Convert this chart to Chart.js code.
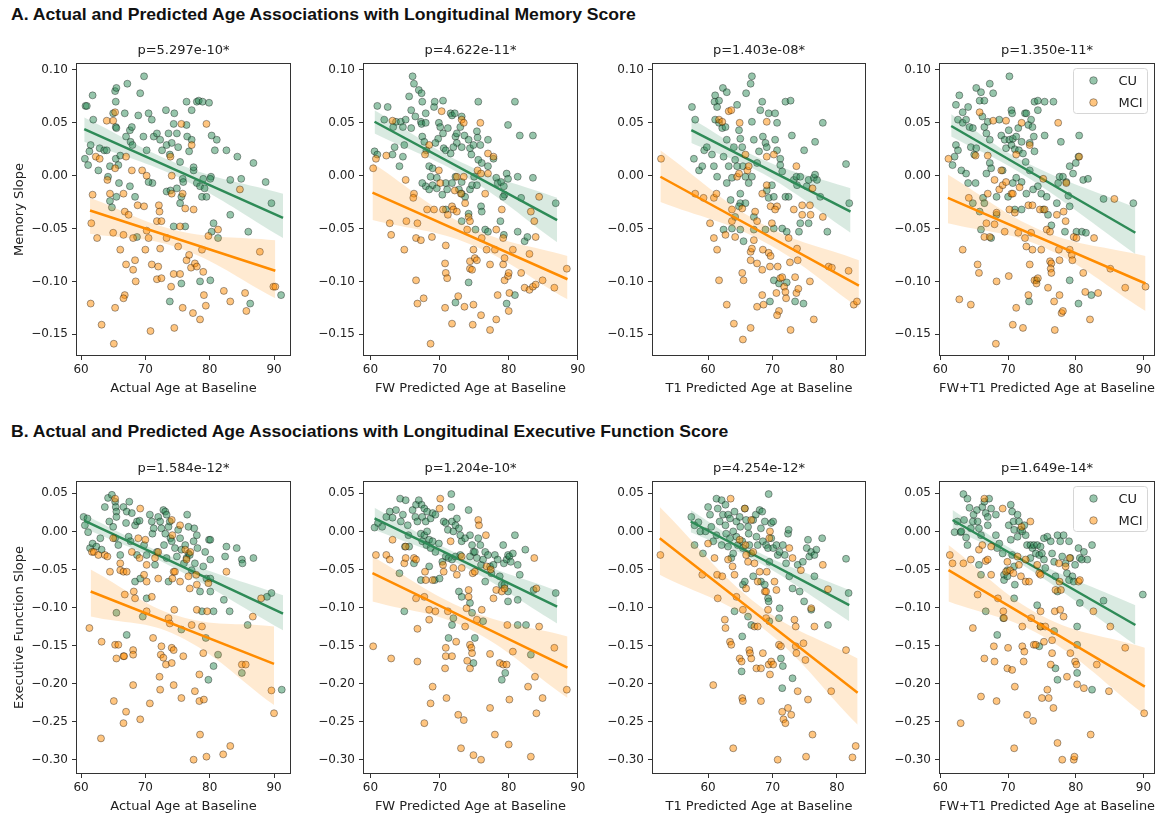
<!DOCTYPE html>
<html>
<head>
<meta charset="utf-8">
<script src="https://cdn.jsdelivr.net/npm/chart.js@4.4.1/dist/chart.umd.min.js"></script>
<style>
  body { margin: 0; background: #fff; }
  #page { position: relative; width: 1163px; height: 816px; overflow: hidden; }
  .section { position: absolute; left: 11px; font: bold 17px "Liberation Sans", Arial, sans-serif; color: #111;
             white-space: nowrap; line-height: 20px; transform-origin: left center; }
  canvas { position: absolute; }
</style>
</head>
<body>
<div id="page">
  <div class="section" style="top:5px" data-w="625">A. Actual and Predicted Age Associations with Longitudinal Memory Score</div>
  <div class="section" style="top:422px" data-w="717">B. Actual and Predicted Age Associations with Longitudinal Executive Function Score</div>
</div>
<script>
// panel texts
const pValues = ['p=5.297e-10*', 'p=4.622e-11*', 'p=1.403e-08*', 'p=1.350e-11*',
                 'p=1.584e-12*', 'p=1.204e-10*', 'p=4.254e-12*', 'p=1.649e-14*'];
const xLabels = ['Actual Age at Baseline', 'FW Predicted Age at Baseline', 'T1 Predicted Age at Baseline', 'FW+T1 Predicted Age at Baseline'];
const yLabels = ['Memory Slope', 'Executive Function Slope'];
const groups = ['CU', 'MCI'];
const xRanges = [[59.22, 92.64], [58.93, 90.02], [51.3, 84.5], [59.8, 91.7]];
const yRanges = [[-0.1706, 0.1066], [-0.3188, 0.0662]];

// ---- A: memory slope ----
const A1_cu = [[60.7,0.066],[60.9,0.066],[61.8,0.076],[61.9,0.053],[60.6,0.016],[61.1,0.010],[61.5,0.029],[61.3,0.023],[62.7,0.005],[62.9,0.026],[63.6,0.024],[64.0,0.024],[64.2,-0.001],[64.5,0.009],[64.5,-0.024],[64.8,-0.030],[65.0,0.059],[65.3,0.080],[65.5,0.083],[65.4,0.070],[65.4,0.046],[65.5,0.045],[65.4,0.016],[65.8,0.010],[66.1,0.019],[65.9,-0.007],[65.5,-0.020],[66.8,0.059],[67.0,0.037],[67.2,0.087],[67.6,0.043],[67.7,0.032],[68.0,0.029],[67.9,0.046],[67.6,-0.010],[68.4,-0.020],[68.7,-0.058],[68.9,0.057],[69.2,0.078],[69.8,0.094],[69.7,0.037],[70.2,0.024],[70.5,0.059],[71.0,0.053],[71.3,0.037],[71.8,0.040],[71.1,-0.007],[70.5,-0.006],[72.3,0.034],[72.6,0.024],[73.2,0.062],[73.3,0.029],[73.6,0.040],[73.8,0.020],[74.1,0.031],[74.5,0.059],[74.4,0.049],[74.9,0.040],[75.1,0.027],[75.4,0.013],[73.3,-0.015],[73.9,-0.014],[74.9,-0.012],[75.6,-0.020],[75.8,-0.003],[75.9,-0.006],[75.4,-0.026],[76.2,-0.048],[74.4,-0.048],[75.6,-0.102],[73.8,-0.119],[76.4,0.048],[76.5,0.037],[76.4,0.070],[77.2,0.062],[77.2,0.034],[76.8,0.023],[77.5,0.005],[77.5,0.008],[78.0,0.070],[78.3,0.071],[78.9,0.070],[79.9,0.069],[78.0,-0.007],[78.5,-0.010],[79.0,-0.003],[78.8,-0.020],[79.5,-0.020],[80.3,0.038],[80.8,0.024],[81.1,0.034],[80.2,-0.001],[80.1,-0.003],[80.6,-0.045],[80.3,-0.053],[81.3,-0.059],[82.6,0.024],[83.2,-0.004],[84.3,0.018],[83.2,-0.037],[84.9,-0.003],[86.0,-0.053],[86.8,0.012],[86.3,-0.121],[88.7,-0.006],[89.6,-0.026],[91.1,-0.113],[78.5,-0.100],[80.1,-0.099],[79.2,-0.012]];
const A1_mci = [[61.8,-0.018],[61.6,-0.045],[62.5,-0.059],[61.5,-0.121],[63.2,-0.141],[62.3,0.018],[62.9,0.016],[64.0,0.052],[65.0,0.052],[65.3,0.060],[64.1,-0.004],[64.5,-0.017],[65.3,0.007],[65.0,-0.054],[65.3,-0.125],[65.1,-0.159],[66.1,-0.070],[66.6,-0.017],[67.0,0.018],[66.8,-0.034],[67.4,-0.037],[66.6,-0.056],[67.0,-0.084],[66.8,-0.113],[66.6,-0.116],[67.9,0.005],[68.1,-0.059],[68.4,-0.080],[68.5,-0.100],[68.1,-0.089],[68.8,-0.028],[69.5,0.005],[69.8,-0.029],[70.0,-0.070],[70.2,0.000],[70.2,-0.052],[70.5,-0.059],[70.8,-0.147],[71.0,-0.084],[72.0,-0.086],[72.1,-0.028],[72.2,-0.034],[72.3,-0.069],[71.8,-0.043],[72.5,-0.043],[71.8,-0.098],[72.5,-0.097],[73.3,-0.059],[73.9,0.018],[74.0,-0.105],[74.4,-0.093],[74.5,-0.144],[74.1,0.000],[74.1,-0.017],[75.4,-0.048],[75.1,-0.067],[75.4,-0.093],[75.8,-0.125],[75.6,0.049],[75.8,-0.017],[76.2,-0.031],[76.4,-0.080],[76.8,-0.075],[77.2,0.029],[77.1,-0.087],[77.4,-0.130],[77.5,-0.032],[77.7,-0.083],[78.0,-0.086],[78.5,-0.136],[78.8,-0.070],[79.0,-0.091],[79.1,-0.113],[79.4,-0.123],[79.5,0.049],[79.8,-0.057],[81.3,-0.051],[82.2,-0.109],[83.2,-0.119],[84.7,-0.013],[85.5,-0.111],[85.7,-0.128],[87.8,-0.072],[89.9,-0.105],[90.2,-0.105]];
const A1_cuFit = [[60.5,0.044],[91.4,-0.040]];
const A1_mciFit = [[61.4,-0.033],[90.2,-0.090]];
const A1_cuBand = [[60.5,0.032,0.055],[76.0,-0.004,0.009],[91.4,-0.059,-0.017]];
const A1_mciBand = [[61.4,-0.055,-0.021],[75.0,-0.068,-0.052],[90.2,-0.116,-0.061]];

const A2_cu = [[61.0,0.066],[60.6,0.023],[61.0,0.020],[62.0,0.053],[62.5,0.065],[63.3,0.046],[63.5,0.027],[63.2,0.020],[63.7,0.051],[64.4,0.051],[64.7,0.046],[64.9,0.029],[65.1,0.053],[64.2,0.009],[64.7,0.018],[65.9,0.045],[66.1,0.094],[66.3,0.087],[65.6,0.075],[65.9,0.062],[66.5,0.056],[67.0,0.081],[67.4,0.078],[67.5,0.070],[67.3,0.051],[67.4,0.049],[68.0,0.059],[68.0,0.050],[67.5,0.037],[67.8,0.032],[68.1,0.024],[68.5,0.009],[69.0,0.007],[69.2,0.065],[69.3,0.070],[70.5,0.071],[69.9,0.050],[70.1,0.046],[69.8,0.035],[69.4,0.031],[70.5,0.040],[70.6,0.026],[70.9,0.024],[71.2,0.045],[71.6,0.059],[71.8,0.057],[72.2,0.059],[72.3,0.037],[72.5,0.031],[72.0,0.027],[71.6,0.021],[72.5,0.040],[73.0,0.046],[73.2,0.027],[73.6,0.038],[73.2,0.056],[74.2,0.034],[74.4,0.026],[74.6,0.020],[74.9,0.029],[75.4,0.042],[75.5,0.036],[75.6,0.070],[75.6,0.015],[75.9,0.029],[76.1,0.012],[77.0,0.034],[77.0,0.009],[69.6,-0.002],[69.0,-0.009],[68.0,-0.010],[67.5,-0.007],[68.5,-0.013],[69.6,-0.012],[70.4,-0.018],[70.9,-0.007],[71.1,-0.013],[71.8,-0.007],[72.3,-0.001],[72.8,-0.013],[73.2,-0.017],[73.7,-0.020],[73.2,-0.006],[74.4,-0.013],[74.7,-0.009],[75.0,-0.001],[75.4,-0.009],[76.0,-0.029],[76.1,-0.034],[75.2,-0.051],[76.6,-0.051],[77.0,-0.053],[78.2,-0.002],[78.4,-0.007],[78.9,-0.006],[79.3,-0.010],[79.4,-0.018],[79.2,-0.020],[78.8,-0.043],[79.7,0.002],[79.9,-0.003],[81.3,-0.001],[81.8,-0.021],[79.9,0.048],[80.9,0.070],[81.6,0.038],[83.5,0.038],[83.5,-0.002],[81.3,-0.053],[82.3,-0.062],[82.7,-0.058],[79.3,-0.056],[79.7,-0.121],[80.9,-0.113],[72.3,-0.120],[74.2,-0.101],[86.8,-0.026],[77.8,0.016],[73.2,-0.043],[70.9,-0.032],[74.2,-0.036],[68.7,-0.001]];
const A2_mci = [[60.4,0.007],[60.8,0.016],[62.3,0.019],[63.2,0.052],[62.8,-0.045],[63.0,-0.056],[64.9,-0.070],[65.1,-0.004],[65.2,-0.043],[66.3,-0.017],[66.2,-0.021],[66.8,-0.045],[66.6,-0.059],[67.3,-0.061],[66.6,-0.099],[66.8,-0.121],[67.7,-0.116],[67.9,0.020],[68.5,0.029],[68.2,-0.032],[68.9,-0.058],[68.7,-0.159],[69.2,-0.032],[69.9,0.005],[70.1,-0.007],[70.3,0.061],[70.5,-0.032],[70.9,-0.066],[70.8,-0.083],[70.9,-0.092],[71.1,-0.097],[70.8,-0.125],[71.2,-0.037],[71.8,-0.029],[72.0,-0.032],[72.5,-0.034],[72.5,-0.001],[72.2,-0.014],[72.7,-0.114],[71.8,-0.140],[73.2,0.053],[73.5,0.050],[73.5,-0.001],[73.1,-0.017],[73.7,-0.026],[74.2,-0.039],[74.4,-0.043],[74.0,-0.051],[73.6,-0.124],[74.4,-0.088],[74.4,-0.081],[74.7,-0.089],[74.8,-0.141],[74.9,-0.122],[74.9,-0.070],[75.1,-0.078],[75.4,-0.080],[75.5,0.005],[75.9,0.050],[76.0,0.002],[76.1,-0.059],[76.6,-0.017],[76.8,-0.070],[76.0,-0.132],[77.0,0.021],[77.8,0.018],[77.0,0.002],[77.3,-0.084],[77.3,-0.146],[78.0,-0.070],[78.2,-0.051],[78.2,-0.136],[78.4,-0.113],[79.0,-0.032],[79.2,-0.059],[79.2,-0.084],[79.4,-0.078],[79.4,-0.099],[79.9,-0.095],[80.0,-0.092],[80.1,-0.111],[80.0,-0.128],[80.6,-0.070],[81.8,-0.092],[82.3,-0.106],[83.0,-0.108],[83.5,-0.105],[83.9,-0.103],[84.9,-0.099],[83.9,-0.058],[83.2,-0.034],[83.7,-0.043],[83.0,-0.074],[84.4,-0.020],[86.6,-0.106],[88.4,-0.088]];
const A2_cuFit = [[60.6,0.051],[87.0,-0.042]];
const A2_mciFit = [[60.3,-0.016],[88.5,-0.098]];
const A2_cuBand = [[60.6,0.040,0.062],[74.0,-0.002,0.010],[87.0,-0.063,-0.021]];
const A2_mciBand = [[60.3,-0.042,0.012],[74.5,-0.065,-0.049],[88.5,-0.117,-0.076]];

const A3_cu = [[57.5,0.065],[58.0,0.053],[57.8,0.016],[58.6,0.005],[59.1,0.009],[59.4,0.024],[59.8,0.027],[60.6,0.020],[61.0,0.070],[61.1,0.076],[61.4,0.065],[61.7,0.071],[62.3,0.083],[62.9,0.079],[61.1,0.053],[61.7,0.050],[62.2,0.045],[62.7,0.046],[62.9,0.034],[60.9,0.009],[61.4,-0.001],[62.4,0.018],[62.9,-0.007],[63.7,-0.002],[63.2,0.009],[64.0,0.027],[64.2,0.015],[64.5,0.067],[64.8,0.043],[65.0,0.035],[65.3,0.027],[65.4,0.009],[65.8,-0.001],[65.9,0.078],[66.6,0.087],[66.8,0.094],[66.8,0.051],[67.1,0.034],[66.8,-0.001],[66.3,-0.007],[65.0,-0.017],[65.0,-0.026],[65.8,-0.026],[64.8,-0.029],[64.2,-0.039],[63.7,-0.050],[65.0,-0.051],[65.5,-0.062],[67.1,-0.039],[67.1,-0.051],[67.6,0.012],[67.9,0.023],[68.1,0.062],[68.4,0.070],[68.5,0.037],[68.9,0.031],[69.1,0.027],[69.4,0.059],[70.4,0.059],[70.7,0.050],[70.4,0.034],[70.7,0.024],[71.2,0.016],[71.2,0.010],[71.5,0.004],[72.0,0.070],[72.8,0.071],[73.0,0.038],[73.3,-0.004],[73.7,-0.001],[73.8,-0.009],[74.3,-0.001],[74.9,0.024],[75.3,-0.010],[75.6,-0.004],[76.4,-0.002],[76.6,0.032],[76.9,-0.004],[76.6,0.001],[77.4,-0.020],[77.8,0.050],[78.5,-0.053],[81.4,0.011],[81.9,-0.026],[69.1,-0.014],[69.9,-0.009],[69.4,-0.021],[70.2,-0.020],[72.0,-0.020],[72.5,-0.020],[71.5,-0.050],[72.2,-0.053],[74.1,-0.053],[74.3,-0.045],[75.6,-0.045],[70.2,-0.050],[68.9,-0.051],[70.2,-0.099],[71.0,-0.102],[72.2,-0.101],[69.6,-0.119],[73.5,-0.119],[74.8,-0.121],[64.5,0.009],[63.5,-0.023],[62.4,-0.051]];
const A3_mci = [[52.7,0.016],[58.0,-0.017],[59.3,-0.021],[60.9,-0.021],[61.3,-0.017],[60.3,-0.045],[60.9,-0.059],[61.4,-0.070],[61.7,-0.099],[62.7,-0.056],[62.9,-0.122],[64.0,-0.140],[61.7,0.053],[62.2,0.051],[63.2,0.061],[63.6,0.062],[63.7,-0.032],[63.7,-0.043],[64.2,-0.058],[64.5,-0.001],[64.8,0.002],[64.9,0.050],[65.3,-0.031],[65.3,-0.092],[65.5,-0.099],[65.4,-0.155],[65.8,0.020],[66.1,0.005],[66.3,0.009],[66.6,-0.144],[66.6,-0.072],[66.8,-0.069],[67.1,-0.061],[66.6,-0.080],[67.3,-0.034],[67.6,-0.083],[67.6,-0.124],[67.6,-0.043],[68.4,-0.017],[68.4,-0.089],[68.5,-0.070],[68.6,-0.122],[69.1,0.051],[69.1,0.018],[69.1,-0.009],[69.4,-0.073],[69.7,-0.076],[69.6,-0.086],[69.7,-0.029],[69.9,-0.045],[68.4,-0.113],[70.2,0.020],[70.7,-0.029],[70.4,-0.032],[70.8,-0.086],[70.6,-0.111],[71.0,-0.128],[70.7,-0.132],[71.2,-0.097],[71.5,-0.096],[71.8,-0.105],[72.0,-0.110],[72.1,-0.116],[72.5,-0.059],[72.7,-0.082],[72.8,-0.146],[73.3,-0.032],[73.7,0.009],[73.5,-0.096],[73.8,-0.069],[73.9,-0.080],[73.7,-0.111],[74.0,-0.107],[74.6,-0.028],[74.6,-0.037],[75.8,-0.028],[75.9,-0.037],[75.8,-0.100],[76.2,-0.012],[76.4,-0.136],[77.8,-0.039],[78.7,-0.086],[79.2,-0.087],[81.8,-0.090],[82.6,-0.122],[83.1,-0.119]];
const A3_cuFit = [[57.4,0.043],[82.1,-0.034]];
const A3_mciFit = [[52.6,-0.001],[83.4,-0.104]];
const A3_cuBand = [[57.4,0.031,0.054],[68.5,0.002,0.015],[82.1,-0.054,-0.012]];
const A3_mciBand = [[52.6,-0.025,0.024],[68.5,-0.062,-0.046],[83.4,-0.125,-0.080]];

const A4_cu = [[62.3,0.067],[62.8,0.076],[63.3,0.060],[64.1,0.065],[62.6,0.053],[63.3,0.050],[63.8,0.053],[64.3,0.046],[62.3,0.029],[62.6,0.024],[62.1,0.018],[61.8,0.010],[63.1,0.005],[63.8,0.002],[64.5,0.027],[65.0,0.020],[64.8,0.045],[65.3,0.083],[65.8,0.071],[66.0,0.079],[66.5,0.071],[66.2,0.056],[66.5,0.046],[67.0,0.051],[67.3,0.087],[67.8,0.078],[66.8,0.040],[67.3,0.034],[65.3,0.026],[65.2,-0.007],[66.3,-0.021],[66.5,-0.026],[66.8,0.002],[67.3,0.012],[67.5,0.007],[68.3,-0.020],[68.7,0.053],[69.0,0.038],[69.2,0.005],[69.5,0.034],[69.7,0.026],[70.2,0.094],[70.5,0.062],[70.6,0.059],[70.1,0.043],[70.2,0.034],[70.5,0.029],[70.7,0.035],[71.0,0.025],[71.2,0.037],[71.5,0.045],[71.6,0.024],[72.0,0.032],[72.2,0.021],[72.5,0.059],[72.7,0.059],[73.0,0.048],[73.2,0.031],[73.4,0.053],[73.6,0.046],[73.8,0.037],[73.9,0.023],[72.6,0.013],[73.2,0.005],[73.9,0.070],[74.4,0.071],[74.4,0.062],[75.4,0.038],[75.4,0.070],[76.7,0.070],[71.2,-0.002],[72.0,-0.006],[70.7,-0.007],[70.0,-0.020],[71.0,-0.032],[72.0,-0.032],[72.7,-0.017],[73.7,-0.013],[74.4,-0.010],[74.9,-0.017],[75.2,-0.032],[75.7,-0.020],[75.9,-0.037],[76.4,-0.047],[77.2,-0.026],[77.4,-0.007],[77.6,-0.001],[77.8,0.032],[78.6,-0.006],[78.1,-0.001],[78.9,-0.019],[79.1,-0.029],[78.4,-0.053],[79.1,0.009],[80.0,0.012],[80.4,0.018],[80.5,0.038],[81.1,-0.004],[81.8,-0.003],[79.6,0.002],[80.1,-0.053],[80.9,-0.053],[81.5,-0.054],[79.1,-0.099],[80.4,-0.121],[82.3,-0.113],[84.1,-0.022],[88.5,-0.026],[73.1,-0.119],[74.2,-0.099],[64.1,-0.007],[64.8,-0.026],[65.8,-0.034],[66.0,-0.051],[67.5,-0.059],[68.3,-0.037]];
const A4_mci = [[61.2,0.016],[64.2,-0.021],[63.3,-0.070],[65.5,-0.084],[65.7,-0.092],[62.8,-0.117],[64.5,-0.122],[65.2,0.019],[65.8,0.060],[66.5,-0.058],[66.8,-0.045],[67.3,-0.058],[67.0,0.019],[67.0,-0.017],[67.8,0.052],[68.0,-0.046],[68.0,-0.004],[68.3,-0.100],[68.2,-0.159],[68.3,-0.035],[68.7,-0.013],[69.0,0.005],[69.2,-0.009],[69.5,-0.053],[69.7,0.052],[69.7,-0.006],[70.1,-0.095],[70.2,-0.032],[70.5,-0.017],[70.7,-0.017],[71.0,-0.035],[70.7,-0.141],[71.2,-0.125],[71.5,-0.054],[71.7,-0.011],[71.2,0.020],[72.0,0.050],[72.2,-0.144],[72.5,-0.059],[72.7,-0.067],[73.0,-0.028],[73.0,-0.113],[73.2,0.029],[73.2,-0.084],[73.4,-0.054],[73.6,-0.070],[73.9,-0.099],[73.6,-0.028],[74.2,-0.102],[74.4,-0.097],[74.7,-0.032],[74.9,-0.070],[75.2,-0.003],[75.4,-0.032],[75.9,-0.106],[75.7,-0.051],[76.2,-0.053],[76.2,-0.081],[76.4,-0.083],[76.3,-0.088],[76.4,-0.092],[76.8,-0.119],[76.9,-0.146],[77.2,-0.037],[77.4,0.050],[77.5,-0.070],[77.6,-0.080],[77.6,-0.113],[77.9,-0.130],[78.1,-0.128],[78.2,-0.034],[78.5,-0.043],[78.6,-0.007],[79.1,-0.070],[79.4,-0.075],[79.5,-0.080],[79.7,-0.058],[80.1,-0.059],[80.5,0.018],[81.1,-0.092],[81.4,-0.110],[82.1,-0.136],[82.7,-0.059],[83.3,-0.111],[85.1,-0.088],[85.7,-0.022],[87.3,-0.106],[90.3,-0.105]];
const A4_cuFit = [[61.6,0.047],[88.8,-0.054]];
const A4_mciFit = [[61.1,-0.021],[90.3,-0.102]];
const A4_cuBand = [[61.6,0.037,0.058],[72.5,0.000,0.013],[88.8,-0.074,-0.030]];
const A4_mciBand = [[61.1,-0.045,0.001],[75.0,-0.067,-0.052],[90.3,-0.128,-0.076]];

// ---- B: executive function slope ----
const B1_cu = [[60.4,0.019],[60.6,0.008],[61.1,-0.001],[61.0,0.017],[61.4,-0.022],[61.8,-0.016],[62.4,-0.020],[63.0,-0.009],[63.2,-0.024],[63.7,0.032],[64.2,0.044],[64.8,0.048],[64.4,0.013],[65.0,0.006],[65.3,0.039],[65.4,0.032],[65.5,0.026],[65.5,0.019],[65.3,-0.009],[65.8,-0.018],[66.1,-0.031],[65.5,-0.107],[66.6,0.032],[67.1,0.026],[67.5,0.039],[67.9,0.024],[67.0,0.011],[67.4,-0.007],[67.7,-0.013],[67.1,-0.136],[68.4,0.008],[68.7,0.013],[69.1,0.014],[68.7,-0.031],[68.4,-0.066],[69.2,-0.062],[69.6,-0.112],[69.8,-0.018],[70.2,-0.031],[70.7,0.022],[71.0,0.013],[71.1,-0.003],[71.3,0.004],[70.2,-0.088],[71.5,-0.044],[71.8,-0.027],[72.0,0.019],[72.3,0.013],[72.5,0.004],[72.8,0.028],[73.1,0.026],[73.1,-0.003],[72.9,-0.018],[73.3,0.022],[73.6,0.006],[73.8,0.013],[73.9,-0.009],[73.3,-0.035],[73.6,-0.066],[74.1,-0.013],[74.6,-0.022],[74.9,-0.033],[75.1,0.002],[75.4,-0.009],[75.6,-0.024],[75.6,-0.129],[76.0,-0.042],[76.2,-0.018],[76.4,-0.035],[76.5,0.022],[76.7,0.006],[76.7,-0.029],[76.9,-0.031],[77.2,-0.051],[77.5,-0.013],[77.6,0.004],[77.7,-0.042],[78.0,-0.005],[78.1,-0.022],[78.5,-0.079],[78.8,-0.105],[79.0,-0.046],[79.3,-0.027],[79.4,-0.140],[79.5,-0.062],[79.8,-0.195],[80.1,-0.079],[80.1,-0.037],[79.9,-0.011],[80.1,-0.011],[80.6,-0.105],[80.6,-0.177],[81.3,-0.162],[80.1,-0.062],[82.4,-0.033],[82.6,-0.020],[82.2,-0.090],[83.1,-0.105],[84.2,-0.022],[85.0,-0.037],[85.1,-0.042],[85.0,-0.186],[86.8,-0.035],[85.9,-0.123],[89.6,-0.081],[88.9,-0.086],[91.2,-0.208]];
const B1_mci = [[61.3,-0.127],[61.7,-0.027],[62.0,-0.027],[62.7,-0.031],[63.2,-0.145],[63.1,-0.272],[63.7,-0.031],[64.1,-0.033],[64.5,-0.053],[65.0,-0.009],[65.3,0.043],[65.1,-0.223],[65.3,-0.149],[65.5,-0.167],[65.8,-0.149],[66.1,-0.042],[66.1,-0.051],[66.6,-0.053],[66.6,-0.164],[66.7,-0.164],[67.0,-0.237],[66.6,-0.252],[66.8,-0.083],[67.1,-0.053],[67.9,-0.027],[68.2,-0.079],[68.4,-0.088],[68.1,-0.156],[68.1,-0.162],[68.1,-0.202],[68.9,-0.009],[69.1,-0.035],[69.2,-0.247],[69.2,0.030],[69.8,-0.057],[70.0,-0.011],[70.2,-0.044],[70.2,-0.066],[70.2,-0.105],[70.7,-0.226],[71.0,-0.086],[71.2,-0.140],[71.5,-0.035],[72.0,-0.027],[72.0,-0.062],[72.2,-0.191],[72.3,-0.208],[72.4,-0.162],[72.5,-0.151],[72.8,-0.166],[73.2,-0.175],[73.6,-0.114],[73.8,-0.121],[74.1,-0.173],[74.1,-0.153],[74.4,-0.156],[74.4,-0.202],[74.1,0.015],[74.2,-0.005],[74.4,-0.053],[74.2,-0.062],[74.5,-0.103],[74.6,-0.053],[75.4,0.008],[75.4,-0.066],[75.6,-0.219],[75.9,-0.164],[76.2,-0.024],[76.4,-0.037],[76.7,-0.059],[76.9,-0.075],[77.2,-0.123],[77.0,-0.027],[77.7,-0.210],[77.9,-0.057],[78.0,-0.070],[77.5,-0.300],[78.0,-0.103],[78.4,-0.188],[78.4,-0.223],[78.5,-0.267],[78.8,-0.125],[79.0,-0.160],[79.1,-0.221],[79.5,-0.296],[79.6,-0.105],[79.8,-0.068],[82.6,-0.053],[82.1,-0.293],[83.2,-0.282],[85.0,-0.175],[85.6,-0.175],[86.7,-0.112],[88.0,-0.088],[89.6,-0.209],[90.0,-0.239]];
const B1_cuFit = [[60.5,0.014],[91.4,-0.108]];
const B1_mciFit = [[61.5,-0.079],[90.0,-0.174]];
const B1_cuBand = [[60.5,0.004,0.022],[74.0,-0.046,-0.033],[91.4,-0.130,-0.084]];
const B1_mciBand = [[61.5,-0.112,-0.050],[75.0,-0.137,-0.111],[90.0,-0.228,-0.125]];

const B2_cu = [[60.6,0.005],[61.1,0.011],[61.7,0.006],[62.3,0.019],[62.8,0.026],[63.2,0.018],[63.7,0.028],[64.3,0.043],[64.7,0.022],[64.4,0.013],[65.1,0.041],[65.4,0.008],[65.5,-0.005],[65.0,-0.020],[65.6,-0.020],[64.2,-0.055],[64.9,-0.105],[66.1,0.028],[66.6,0.035],[66.5,0.019],[66.8,0.013],[66.3,-0.042],[67.0,0.041],[67.4,0.035],[67.8,0.030],[67.5,0.019],[68.0,0.013],[68.2,0.026],[68.7,0.017],[69.0,0.024],[69.4,0.022],[67.3,-0.003],[67.8,-0.005],[68.2,0.000],[68.5,-0.011],[67.5,-0.013],[68.1,-0.018],[68.7,-0.022],[69.0,-0.013],[69.4,-0.027],[69.9,-0.016],[67.3,-0.064],[68.5,-0.046],[69.3,-0.064],[70.0,-0.062],[70.4,-0.040],[70.6,0.013],[70.9,0.011],[71.2,0.002],[71.7,0.032],[71.7,0.049],[71.8,0.013],[72.0,0.000],[72.3,0.008],[72.5,0.017],[72.8,0.004],[73.0,-0.005],[73.2,-0.013],[73.7,-0.009],[74.2,0.028],[74.4,-0.005],[74.7,-0.018],[74.9,-0.027],[74.4,-0.033],[70.9,-0.033],[71.3,-0.035],[71.8,-0.037],[72.3,-0.033],[73.0,-0.031],[72.8,-0.079],[73.2,-0.086],[72.0,-0.114],[71.8,-0.123],[74.4,-0.094],[74.7,-0.107],[75.1,-0.027],[75.4,-0.035],[75.6,-0.009],[75.9,-0.018],[76.0,-0.044],[76.3,-0.037],[76.6,-0.027],[76.6,-0.066],[76.3,-0.118],[74.9,-0.173],[77.0,-0.031],[77.3,-0.046],[77.5,-0.055],[77.8,-0.044],[78.0,-0.031],[78.4,-0.037],[78.7,-0.059],[79.0,-0.070],[79.2,-0.018],[79.3,-0.042],[79.4,-0.070],[79.7,-0.037],[79.9,-0.031],[80.1,-0.033],[80.3,-0.040],[80.6,-0.029],[79.9,-0.079],[79.9,-0.092],[81.3,-0.044],[81.3,-0.090],[81.6,-0.057],[80.9,-0.005],[81.3,-0.123],[82.4,-0.024],[82.5,-0.123],[83.2,-0.162],[83.6,-0.077],[86.8,-0.081],[79.0,-0.195],[79.5,-0.186],[75.1,-0.140],[71.3,-0.140]];
const B2_mci = [[60.4,-0.151],[60.8,-0.031],[62.3,-0.031],[62.8,-0.037],[63.0,-0.167],[63.2,-0.011],[64.9,-0.042],[65.1,-0.035],[65.1,-0.020],[66.3,-0.035],[66.6,-0.037],[66.6,-0.088],[66.8,-0.128],[66.8,-0.171],[67.8,-0.086],[67.9,-0.053],[68.0,-0.064],[67.8,-0.252],[68.5,-0.103],[68.5,-0.116],[68.7,-0.226],[69.0,-0.204],[69.0,-0.064],[69.4,-0.105],[70.1,0.043],[70.0,0.030],[70.5,-0.044],[70.6,-0.053],[70.9,-0.153],[70.9,-0.164],[70.8,-0.180],[71.0,-0.219],[71.8,-0.164],[71.2,-0.105],[71.6,-0.013],[72.0,-0.048],[72.4,-0.145],[72.5,-0.057],[72.7,-0.241],[73.2,-0.033],[73.2,-0.048],[73.1,-0.285],[73.5,-0.248],[73.7,-0.125],[73.9,-0.101],[74.2,-0.077],[74.2,-0.086],[74.0,-0.170],[74.4,-0.180],[74.4,-0.149],[74.6,-0.153],[74.7,-0.160],[74.8,-0.055],[74.9,-0.294],[75.1,-0.053],[75.4,-0.116],[75.6,0.015],[75.7,0.008],[76.0,-0.300],[76.1,-0.103],[76.7,-0.005],[76.8,-0.046],[77.3,-0.161],[77.3,-0.232],[77.4,-0.050],[77.8,-0.088],[78.0,-0.267],[78.2,-0.077],[78.7,-0.173],[79.0,-0.079],[79.2,-0.175],[79.4,-0.075],[79.7,-0.175],[79.8,-0.123],[80.0,-0.280],[80.1,-0.221],[80.6,-0.158],[82.8,-0.204],[83.2,-0.296],[83.7,-0.035],[84.0,-0.075],[83.8,-0.191],[84.0,-0.239],[84.4,-0.125],[84.9,-0.219],[86.6,-0.153],[88.4,-0.208]];
const B2_cuFit = [[60.6,0.017],[87.0,-0.099]];
const B2_mciFit = [[60.3,-0.055],[88.5,-0.179]];
const B2_cuBand = [[60.6,0.002,0.031],[73.0,-0.044,-0.031],[87.0,-0.121,-0.078]];
const B2_mciBand = [[60.3,-0.092,-0.033],[74.0,-0.127,-0.103],[88.5,-0.219,-0.138]];

const B3_cu = [[57.4,0.019],[57.9,0.008],[57.9,-0.018],[58.5,0.012],[58.8,0.000],[59.2,-0.029],[59.6,0.000],[60.0,0.032],[60.3,0.022],[60.5,0.006],[60.8,-0.013],[61.3,0.043],[61.3,-0.005],[61.5,0.030],[61.8,0.013],[62.1,0.041],[62.1,-0.018],[62.3,0.022],[62.7,0.035],[62.7,0.008],[62.8,-0.003],[63.1,0.022],[63.4,0.017],[63.1,-0.020],[63.4,-0.009],[63.6,-0.035],[63.9,0.000],[63.9,-0.029],[64.1,0.026],[64.4,0.013],[64.4,-0.007],[64.6,-0.018],[64.9,0.019],[65.0,0.006],[65.3,-0.013],[65.4,-0.022],[65.4,-0.070],[65.3,-0.138],[64.1,-0.105],[65.7,0.030],[65.9,0.015],[66.2,0.006],[66.3,-0.003],[66.4,-0.018],[66.7,-0.029],[65.7,-0.066],[66.2,-0.112],[66.7,-0.123],[65.2,-0.184],[67.0,0.015],[67.4,0.022],[67.5,-0.007],[67.7,-0.018],[68.0,0.028],[68.2,0.004],[68.4,0.026],[68.5,-0.013],[68.8,0.013],[69.0,-0.018],[69.3,-0.022],[69.4,0.049],[69.8,0.011],[70.1,0.013],[69.8,-0.009],[69.5,-0.040],[69.3,-0.088],[69.4,-0.092],[70.1,-0.022],[70.6,-0.018],[70.8,-0.031],[71.1,-0.027],[71.6,-0.018],[71.9,-0.031],[72.4,-0.003],[72.5,0.002],[72.1,-0.042],[72.6,-0.059],[71.1,-0.101],[68.2,-0.066],[68.8,-0.070],[69.5,-0.118],[71.0,-0.114],[71.3,-0.167],[71.6,-0.177],[71.5,-0.206],[73.1,-0.193],[73.1,-0.075],[73.9,-0.044],[74.2,-0.079],[74.7,-0.040],[74.9,-0.092],[75.3,-0.022],[75.5,-0.011],[75.7,-0.033],[76.0,-0.027],[76.5,-0.031],[76.5,-0.059],[76.0,-0.103],[76.8,-0.024],[77.7,-0.009],[78.6,-0.123],[81.4,-0.036],[81.8,-0.081],[67.0,-0.059]];
const B3_mci = [[52.6,-0.031],[59.1,-0.057],[60.0,-0.016],[60.8,-0.202],[61.0,-0.035],[61.4,-0.057],[61.5,-0.088],[62.2,-0.059],[62.6,-0.116],[62.7,-0.127],[63.1,-0.037],[63.4,-0.145],[63.6,-0.149],[63.5,0.043],[63.8,-0.046],[63.9,-0.285],[64.1,-0.057],[64.4,-0.086],[64.9,-0.011],[64.9,-0.167],[65.2,-0.171],[65.3,-0.219],[65.4,-0.223],[65.4,-0.103],[65.7,0.030],[65.8,-0.018],[65.9,-0.031],[65.9,-0.075],[66.2,-0.040],[66.4,-0.156],[66.5,-0.160],[66.7,-0.167],[66.7,0.015],[67.0,-0.027],[67.2,-0.042],[67.2,-0.125],[67.5,-0.180],[67.7,-0.066],[67.7,-0.125],[68.0,-0.053],[68.2,-0.180],[68.2,-0.223],[68.5,-0.160],[68.8,-0.079],[69.0,-0.079],[69.0,-0.114],[69.1,-0.053],[69.3,-0.103],[69.4,-0.175],[69.5,-0.009],[69.6,0.000],[69.6,-0.188],[69.8,-0.171],[70.1,-0.175],[70.3,-0.066],[70.6,-0.077],[70.8,-0.300],[71.0,-0.149],[71.3,-0.151],[71.5,-0.237],[71.7,-0.247],[72.0,-0.252],[72.4,-0.232],[72.6,-0.022],[72.9,-0.241],[73.1,-0.035],[73.4,-0.116],[73.6,-0.125],[73.6,-0.151],[73.7,-0.160],[73.9,-0.210],[74.4,-0.051],[74.8,-0.147],[75.1,-0.169],[75.2,-0.296],[75.5,-0.221],[76.0,-0.101],[76.2,-0.267],[76.5,-0.125],[77.8,-0.044],[78.6,-0.076],[79.1,-0.210],[81.4,-0.156],[82.4,-0.297],[82.9,-0.282]];
const B3_cuFit = [[57.3,0.013],[81.9,-0.097]];
const B3_mciFit = [[52.5,-0.009],[83.2,-0.212]];
const B3_cuBand = [[57.3,-0.001,0.028],[67.5,-0.039,-0.026],[81.9,-0.118,-0.077]];
const B3_mciBand = [[52.5,-0.057,0.032],[68.0,-0.124,-0.098],[83.2,-0.254,-0.167]];

const B4_cu = [[62.1,-0.001],[62.5,0.013],[63.0,-0.001],[63.1,0.000],[63.4,0.049],[64.0,0.043],[64.3,0.031],[63.5,0.015],[63.8,-0.008],[64.0,-0.018],[64.5,0.004],[64.8,0.013],[64.9,0.022],[65.4,0.028],[65.5,0.013],[65.7,0.004],[66.0,-0.005],[65.7,-0.044],[66.0,-0.057],[66.2,0.032],[66.5,0.039],[66.7,0.024],[67.0,0.019],[67.2,0.043],[67.5,0.030],[67.0,0.008],[66.7,-0.105],[68.2,0.022],[68.2,-0.005],[68.4,-0.022],[68.7,-0.016],[69.2,-0.029],[68.4,-0.136],[69.4,-0.057],[69.4,-0.064],[69.9,-0.051],[69.9,-0.059],[69.3,-0.114],[70.1,0.008],[70.4,0.035],[70.6,0.026],[70.8,0.013],[70.9,0.002],[70.4,-0.011],[70.6,-0.031],[70.9,-0.046],[71.0,-0.070],[70.9,-0.088],[71.4,0.022],[71.6,0.013],[71.8,0.002],[71.4,-0.007],[72.1,0.000],[72.4,0.008],[72.6,-0.005],[72.8,-0.018],[73.3,-0.018],[73.6,-0.022],[73.8,-0.018],[73.3,-0.035],[74.1,-0.029],[74.3,-0.018],[74.6,-0.031],[74.8,-0.020],[75.0,-0.029],[75.3,-0.037],[75.5,-0.048],[74.3,-0.097],[74.6,-0.151],[74.8,-0.125],[75.3,-0.009],[75.8,-0.007],[76.3,-0.013],[76.5,-0.029],[76.8,-0.040],[77.0,-0.059],[77.3,-0.005],[77.7,-0.013],[78.2,-0.005],[78.0,-0.033],[78.5,-0.042],[78.7,-0.055],[79.0,-0.013],[79.2,-0.035],[79.5,-0.059],[79.0,-0.064],[79.7,-0.066],[79.9,-0.044],[80.4,-0.022],[80.6,-0.035],[80.9,-0.037],[81.2,-0.027],[80.6,-0.094],[77.3,-0.079],[76.8,-0.131],[77.0,-0.180],[77.3,-0.195],[80.2,-0.149],[80.2,-0.186],[82.4,-0.208],[84.1,-0.091],[89.9,-0.083],[80.2,-0.125],[82.4,-0.018],[81.7,-0.037]];
const B4_mci = [[61.4,-0.031],[61.8,-0.042],[63.0,-0.252],[63.4,-0.042],[64.5,-0.037],[64.8,-0.127],[65.5,-0.083],[65.7,-0.024],[66.2,-0.018],[66.0,-0.217],[66.5,-0.167],[66.7,-0.039],[67.0,-0.037],[66.5,0.043],[67.5,-0.020],[67.5,-0.057],[67.9,-0.151],[68.0,-0.171],[68.3,-0.223],[68.5,-0.088],[69.2,0.030],[69.3,-0.105],[69.4,-0.114],[69.7,-0.053],[69.9,-0.040],[69.9,-0.180],[70.0,-0.153],[70.3,-0.051],[70.8,-0.055],[70.6,-0.182],[70.9,-0.285],[71.0,-0.204],[71.4,-0.033],[71.6,-0.044],[71.9,-0.059],[72.0,0.006],[72.1,-0.151],[72.3,-0.171],[72.4,-0.158],[72.1,-0.125],[72.6,-0.037],[72.6,-0.066],[72.8,-0.241],[73.1,-0.066],[73.3,0.013],[73.4,-0.114],[73.7,-0.249],[73.8,-0.149],[74.1,-0.149],[74.3,-0.044],[74.6,-0.055],[74.8,-0.057],[74.8,-0.105],[74.8,-0.125],[75.0,-0.219],[75.3,-0.145],[75.5,-0.125],[75.8,-0.208],[76.0,-0.219],[76.3,-0.175],[76.5,-0.160],[76.5,-0.143],[76.7,-0.232],[76.9,-0.105],[77.0,-0.077],[77.3,-0.278],[77.5,-0.042],[77.6,-0.066],[77.7,-0.103],[77.8,-0.077],[78.0,-0.300],[78.2,-0.112],[78.5,-0.046],[78.7,-0.191],[79.1,-0.035],[79.2,-0.160],[79.9,-0.171],[79.7,-0.300],[79.8,-0.296],[80.1,-0.175],[80.2,-0.201],[80.4,-0.066],[80.6,-0.064],[81.2,-0.206],[82.2,-0.267],[82.6,-0.105],[83.1,-0.175],[85.1,-0.125],[84.9,-0.210],[87.3,-0.153],[90.1,-0.239]];
const B4_cuFit = [[61.8,0.015],[88.8,-0.123]];
const B4_mciFit = [[61.2,-0.051],[90.2,-0.204]];
const B4_cuBand = [[61.8,0.004,0.028],[72.5,-0.046,-0.033],[88.8,-0.149,-0.097]];
const B4_mciBand = [[61.2,-0.092,-0.018],[75.0,-0.137,-0.111],[90.2,-0.241,-0.153]];

// page geometry (plot areas)
const colLeft = [76, 363, 652, 939];
const colWidth = [215, 215, 214, 216];
const rowTop = [63, 481];
const plotH = 293;
const YW = 70, TH = 30, XH = 42, RP = 12;

const GREEN = '46,139,87', ORANGE = '255,140,0';
const FONT = 'DejaVu Sans';

const framePlugin = {
  id: 'frame',
  afterDraw(chart) {
    const {ctx, chartArea: a} = chart;
    ctx.save();
    ctx.strokeStyle = '#333';
    ctx.lineWidth = 1;
    ctx.strokeRect(Math.round(a.left) + 0.5, Math.round(a.top) + 0.5,
                   Math.round(a.right - a.left) - 1, Math.round(a.bottom - a.top) - 1);
    ctx.restore();
  }
};

const boxLegend = {
  id: 'boxLegend',
  afterDraw(chart, args, opts) {
    if (!opts.show) return;
    const {ctx, chartArea: a} = chart;
    const bw = 74, bh = 45, x0 = Math.round(a.right - bw - 8) + 0.5, y0 = Math.round(a.top + 5) + 0.5;
    ctx.save();
    ctx.fillStyle = 'rgba(255,255,255,0.8)';
    ctx.strokeStyle = '#d6d6d6';
    ctx.lineWidth = 1;
    ctx.beginPath();
    ctx.roundRect(x0, y0, bw, bh, 3);
    ctx.fill();
    ctx.stroke();
    const cols = [GREEN, ORANGE];
    groups.forEach((g, k) => {
      const cy = y0 + 12 + k * 22;
      ctx.beginPath();
      ctx.arc(x0 + 20, cy, 3.8, 0, Math.PI * 2);
      ctx.fillStyle = 'rgba(' + cols[k] + ',0.5)';
      ctx.fill();
      ctx.strokeStyle = 'rgba(0,0,0,0.45)';
      ctx.lineWidth = 0.8;
      ctx.stroke();
      ctx.fillStyle = '#222';
      ctx.font = '13px "' + FONT + '"';
      ctx.textBaseline = 'middle';
      ctx.fillText(g, x0 + 45, cy + 1);
    });
    ctx.restore();
  }
};

function pts(arr) { return arr.map(p => ({x: p[0], y: p[1]})); }

function bandSets(band, rgb, order) {
  return [
    {type: 'line', data: band.map(b => ({x: b[0], y: b[1]})), borderWidth: 0, pointRadius: 0, fill: false, order: order, tension: 0.4},
    {type: 'line', data: band.map(b => ({x: b[0], y: b[2]})), borderWidth: 0, pointRadius: 0,
     fill: '-1', backgroundColor: 'rgba(' + rgb + ',0.18)', order: order, tension: 0.4}
  ];
}

function fmtY(v) {
  const r = Math.round(v * 100) / 100;
  return (r < 0 ? '\u2212' : '') + Math.abs(r).toFixed(2);
}

function makePanel(row, col, cu, mci, cuFit, mciFit, cuBand, mciBand) {
  const page = document.getElementById('page');
  const canvas = document.createElement('canvas');
  const w = colWidth[col] + YW + RP, h = plotH + TH + XH;
  canvas.width = w; canvas.height = h;
  canvas.style.left = (colLeft[col] - YW) + 'px';
  canvas.style.top = (rowTop[row] - TH) + 'px';
  canvas.style.width = w + 'px';
  canvas.style.height = h + 'px';
  page.appendChild(canvas);

  const scatterSet = (data, rgb, order) => ({
    type: 'scatter', data: pts(data), pointRadius: 3.5, borderWidth: 0.8,
    backgroundColor: 'rgba(' + rgb + ',0.5)', borderColor: 'rgba(0,0,0,0.45)', order: order
  });
  const lineSet = (data, rgb, order) => ({
    type: 'line', data: pts(data), borderColor: 'rgb(' + rgb + ')', borderWidth: 2.5, pointRadius: 0, fill: false, order: order
  });

  const datasets = [
    scatterSet(cu, GREEN, 6),
    ...bandSets(cuBand, GREEN, 5),
    lineSet(cuFit, GREEN, 4),
    scatterSet(mci, ORANGE, 3),
    ...bandSets(mciBand, ORANGE, 2),
    lineSet(mciFit, ORANGE, 1)
  ];

  new Chart(canvas, {
    type: 'scatter',
    data: {datasets: datasets},
    options: {
      responsive: false,
      animation: false,
      layout: {padding: {left: 0, top: 0, bottom: 0, right: RP}},
      plugins: {
        legend: {display: false},
        tooltip: {enabled: false},
        title: {display: true, fullSize: false, text: pValues[row * 4 + col], color: '#222',
                font: {family: FONT, size: 13, weight: 'normal'}, padding: {top: 9.9, bottom: 4.5}},
        boxLegend: {show: col === 3}
      },
      scales: {
        x: {
          type: 'linear', min: xRanges[col][0], max: xRanges[col][1],
          afterFit: s => { s.height = XH; },
          border: {display: false},
          grid: {drawOnChartArea: false, drawTicks: true, tickLength: 4, color: '#333'},
          ticks: {stepSize: 10, includeBounds: false, maxRotation: 0, padding: 3, color: '#222',
                  font: {family: FONT, size: 12}},
          title: {display: true, text: xLabels[col], color: '#222', font: {family: FONT, size: 13},
                  padding: {top: 0, bottom: 1.8}}
        },
        y: {
          type: 'linear', min: yRanges[row][0], max: yRanges[row][1],
          afterFit: s => { s.width = YW; },
          border: {display: false},
          grid: {drawOnChartArea: false, drawTicks: true, tickLength: 4, color: '#333'},
          ticks: {stepSize: 0.05, includeBounds: false, padding: 4, color: '#222',
                  font: {family: FONT, size: 12}, callback: fmtY},
          title: {display: col === 0, text: yLabels[row], color: '#222', font: {family: FONT, size: 13},
                  padding: {top: 5.7, bottom: 0}}
        }
      }
    },
    plugins: [framePlugin, boxLegend]
  });
}

makePanel(0, 0, A1_cu, A1_mci, A1_cuFit, A1_mciFit, A1_cuBand, A1_mciBand);
makePanel(0, 1, A2_cu, A2_mci, A2_cuFit, A2_mciFit, A2_cuBand, A2_mciBand);
makePanel(0, 2, A3_cu, A3_mci, A3_cuFit, A3_mciFit, A3_cuBand, A3_mciBand);
makePanel(0, 3, A4_cu, A4_mci, A4_cuFit, A4_mciFit, A4_cuBand, A4_mciBand);
makePanel(1, 0, B1_cu, B1_mci, B1_cuFit, B1_mciFit, B1_cuBand, B1_mciBand);
makePanel(1, 1, B2_cu, B2_mci, B2_cuFit, B2_mciFit, B2_cuBand, B2_mciBand);
makePanel(1, 2, B3_cu, B3_mci, B3_cuFit, B3_mciFit, B3_cuBand, B3_mciBand);
makePanel(1, 3, B4_cu, B4_mci, B4_cuFit, B4_mciFit, B4_cuBand, B4_mciBand);

// squeeze the section headings to the width they have in the figure
document.querySelectorAll('.section').forEach(el => {
  const target = +el.dataset.w;
  const actual = el.getBoundingClientRect().width;
  if (actual > 0) el.style.transform = 'scaleX(' + (target / actual).toFixed(3) + ')';
});
</script>
</body>
</html>
